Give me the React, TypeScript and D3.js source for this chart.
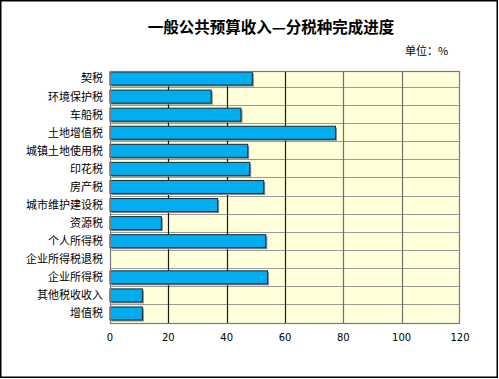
import React from "react";
import * as d3 from "d3";

const categories = [
  "契税",
  "环境保护税",
  "车船税",
  "土地增值税",
  "城镇土地使用税",
  "印花税",
  "房产税",
  "城市维护建设税",
  "资源税",
  "个人所得税",
  "企业所得税退税",
  "企业所得税",
  "其他税收收入",
  "增值税",
];
const values = [48.8, 34.7, 44.9, 77.3, 47.2, 47.9, 52.7, 36.9, 17.6, 53.4, 0, 54.0, 11.1, 11.1];
const xTicks = [0, 20, 40, 60, 80, 100, 120];
const title = "一般公共预算收入—分税种完成进度";
const unitLabel = "单位：%";

const W = 499;
const H = 379;
const plot = { left: 110, right: 460, top: 71, bottom: 324 };

export default function App() {
  const x = d3.scaleLinear().domain([0, 120]).range([plot.left, plot.right]);
  const y = d3
    .scaleBand<string>()
    .domain(categories)
    .range([plot.top, plot.bottom])
    .paddingInner(0.28)
    .paddingOuter(0.14);
  const step = y.step();
  const font = "'Noto Sans CJK SC', 'DejaVu Sans', sans-serif";

  return (
    <svg
      width={W}
      height={H}
      style={{ position: "absolute", left: 0, top: 0, background: "#fff" }}
      fontFamily={font}
    >
      <rect x={0.75} y={0.75} width={W - 2.5} height={H - 2.5} fill="#fff" stroke="#000" strokeWidth={1.5} />
      <text x={271} y={33} textAnchor="middle" fontSize={15.5} fontWeight="bold" fill="#000">
        {title}
      </text>
      <text x={405} y={55} fontSize={11} fill="#000">
        {unitLabel}
      </text>

      <rect
        x={plot.left}
        y={plot.top}
        width={plot.right - plot.left}
        height={plot.bottom - plot.top}
        fill="#FFFFD9"
      />
      {categories.slice(1).map((c, i) => {
        const yy = Math.round(plot.top + step * (i + 1)) - 1.5;
        return (
          <line key={c} x1={plot.left} x2={plot.right} y1={yy} y2={yy} stroke="#9a9a9a" strokeWidth={1.2} />
        );
      })}
      {xTicks.slice(1, -1).map((t) => (
        <line
          key={t}
          x1={Math.round(x(t)) + 0.5}
          x2={Math.round(x(t)) + 0.5}
          y1={plot.top}
          y2={plot.bottom}
          stroke={t <= 60 ? "#1a1a1a" : "#6e6e6e"}
          strokeWidth={1.2}
        />
      ))}
      {categories.map((c, i) => {
        const v = values[i];
        const yy = (y(c) as number) - 1.5;
        const h = y.bandwidth();
        const w = x(v) - x(0);
        return (
          <g key={c}>
            {v > 0 && (
              <>
                <rect x={x(0) + 1.5} y={yy + 1.5} width={w} height={h} fill="#8a8a8a" />
                <rect x={x(0)} y={yy} width={w} height={h} fill="#00AEEF" stroke="#1b2a38" strokeWidth={1} />
              </>
            )}
            <text
              x={103}
              y={yy + h / 2}
              dy="0.36em"
              textAnchor="end"
              fontSize={11}
              fill="#000"
            >
              {c}
            </text>
          </g>
        );
      })}
      <rect
        x={plot.left + 0.5}
        y={plot.top + 0.5}
        width={plot.right - plot.left - 1}
        height={plot.bottom - plot.top - 1}
        fill="none"
        stroke="#7a7a7a"
        strokeWidth={1.2}
      />
      {xTicks.map((t) => (
        <text key={t} x={x(t)} y={341} textAnchor="middle" fontSize={10} fill="#000" fontFamily="'DejaVu Sans', sans-serif">
          {t}
        </text>
      ))}
    </svg>
  );
}
